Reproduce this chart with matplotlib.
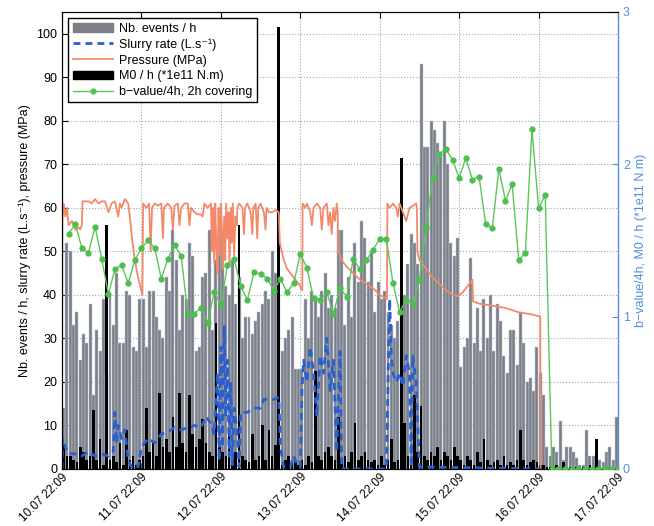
import numpy as np
import matplotlib.pyplot as plt
from matplotlib.patches import Patch
from matplotlib.lines import Line2D

plt.rcParams['font.family'] = ['Liberation Sans', 'DejaVu Sans']

# ---- date axis (hours since 10.07 22:09) ----
tick_hours = [0, 24, 48, 72, 96, 120, 144, 168]
tick_labels = ['10.07 22:09', '11.07 22:09', '12.07 22:09', '13.07 22:09',
               '14.07 22:09', '15.07 22:09', '16.07 22:09', '17.07 22:09']

# ---- number of events per hour, one list per day ----
events_d1 = [14, 52, 50, 33, 36, 25, 31, 29, 38, 17, 32, 27, 39, 22, 40, 33, 45, 29, 29, 41, 40, 28, 27, 39]
events_d2 = [39, 28, 41, 41, 35, 32, 30, 44, 41, 55, 48, 32, 40, 39, 52, 49, 27, 28, 44, 45, 55, 32, 48, 55]
events_d3 = [55, 42, 40, 48, 38, 44, 30, 35, 35, 31, 34, 36, 38, 41, 39, 50, 45, 40, 27, 30, 32, 35, 23, 23]
events_d4 = [23, 39, 30, 41, 39, 35, 41, 45, 37, 40, 37, 55, 55, 33, 44, 35, 52, 43, 57, 53, 43, 50, 36, 43]
events_d5 = [39, 41, 36, 33, 30, 34, 35, 40, 47, 54, 52, 47, 93, 74, 74, 80, 78, 75, 72, 80, 70, 52, 49, 53]
events_d6 = [23.5, 28, 30, 48.5, 29, 37, 27, 39, 30, 40, 27, 38, 34, 26, 22, 32, 32, 24, 36, 29, 20, 21, 18, 28]
events_d7 = [22, 17, 5, 3, 5, 4, 11, 2, 5, 5, 4, 2.5, 1, 1, 9, 3, 3, 2, 2, 1.5, 4, 5, 2, 12]

# ---- seismic moment per hour (*1e11 N.m, drawn in left-axis units) ----
moment_d1 = [5.5, 3, 3, 2, 1.5, 5, 4, 2, 3, 13.5, 2, 7, 1, 56, 2, 3, 1.5, 6, 1, 9, 2, 3, 1, 2]
moment_d2 = [3, 14, 4, 6, 3, 17.5, 5, 7, 4, 12, 5, 17.5, 6, 4, 17, 8, 5, 7, 11.5, 6, 4, 3, 33.5, 5]
moment_d3 = [4, 3, 9.5, 2, 4, 56, 3, 2, 1.5, 8, 2, 3, 10, 2, 9, 3, 5.5, 101.5, 1, 2, 3, 1.5, 2, 1]
moment_d4 = [2, 1, 3, 1.5, 22.5, 3, 2, 4, 5, 3, 2, 12, 2, 3, 1.5, 4, 10.5, 2, 3, 4, 2, 1.5, 2, 1]
moment_d5 = [3, 1, 2, 7, 1.5, 2, 71.5, 10.5, 3, 2, 17, 4, 14.5, 3, 2, 4, 3, 5, 2, 4, 3, 2, 5, 3]
moment_d6 = [2, 1, 3, 2, 1, 4, 1.5, 7, 2, 1, 1.5, 2, 1, 3, 1, 1.5, 1, 2, 9, 2, 1, 1.5, 2, 1.5]
moment_d7 = [1, 1, 0.5, 0.5, 0.3, 1, 0.3, 1.5, 0.3, 0.5, 0.3, 0.5, 0.3, 0.5, 0.3, 1, 0.5, 7, 0.5, 0.3, 0.5, 0.3, 0.3, 0.3]

# ---- injection pressure (MPa) ----
pressure_t = [0, 0.1, 0.5, 1, 1.5, 2, 3, 4, 5, 5.5, 6, 6.2, 8, 9, 10, 11, 12, 13, 14, 15, 16, 17, 17.5, 18, 19, 20,
              20.5, 21, 22, 23, 24, 24.3,
              24.5, 25.5, 26.3, 26.8, 27.2, 28, 29, 30, 30.5, 30.8, 32, 33, 33.5, 34, 35, 35.5, 36, 37, 38, 38.5,
              39, 40, 41, 42, 42.5, 43, 44,
              45, 45.3, 45.6, 46, 46.3, 46.6, 47, 47.3, 47.6, 48, 48.3, 48.6, 49, 49.3, 49.6, 50, 50.3, 50.6, 51,
              51.3, 51.6, 52, 52.4, 52.8, 53,
              53.5, 54.5, 55, 55.3, 56, 57, 57.5, 57.8, 58.5, 59, 59.3, 60, 61, 61.5, 61.8, 62.5, 63.5, 64.5, 65.5,
              65.8, 67, 68, 69, 70, 71, 72, 72.6,
              72.7, 73.5, 74, 75, 75.5, 76, 77, 78, 78.5, 79, 80, 80.5, 81, 81.5, 82, 82.5, 83, 83.3,
              83.4, 84.5, 86, 88, 90, 92, 94, 96, 98.2,
              98.3, 99, 100, 101, 101.5, 102, 103, 104, 105, 106, 107, 107.2,
              107.4, 108, 110, 112, 114, 116, 118, 119.5, 121, 122.5, 124,
              124.2, 126, 130, 134, 138, 142, 144.5, 144.6]
pressure_v = [0, 57, 61, 58, 60, 56, 57, 55, 55.5, 55, 56, 61.5, 61.5, 61, 62, 61, 61.5, 61.5, 59, 61, 61.5, 58, 61, 60, 62, 61,
              58, 54, 48, 44, 41, 40,
              61, 60, 61, 50, 60, 61, 60.5, 61, 53, 60, 61, 60, 55, 60.5, 61, 56, 60, 61, 61, 56,
              60, 59, 58.5, 58.5, 58, 61, 60,
              61, 50, 60, 47, 61, 52, 45, 60, 49, 61, 55, 46, 58, 48, 61, 53, 59, 47, 60,
              52, 61, 49, 58, 56, 60,
              61, 60, 54, 60, 61, 59, 54, 60, 61, 53, 60, 61, 59, 55, 60, 59, 59, 59.5, 59,
              52, 48, 46, 45, 44, 43, 42, 41,
              61, 60, 61, 59, 56, 60, 61, 60, 55, 60, 61, 56, 59, 54, 60, 57, 61, 59,
              50, 48, 46.5, 45, 43.5, 42.5, 41.5, 40, 39,
              61, 60, 61, 60, 58, 61, 59, 57, 60, 60.5, 61, 60,
              50, 48, 46, 44, 42.5, 41, 40, 39.7, 40.5, 42, 43.5,
              38.5, 38, 37.5, 37, 36, 35.5, 35, 0]

# ---- slurry injection rate (L/s) ----
slurry_t = [0, 0.2, 1, 2, 4, 6, 8, 10, 12, 14, 15.5, 16, 16.5, 17, 18, 19, 20, 21, 22, 23,
            24, 26, 28, 30, 32, 34, 36, 38, 40, 42, 43.5, 45, 46, 47, 47.5, 48, 48.5, 49, 49.5, 50, 50.5,
            51, 51.5, 52, 53, 53.5, 54, 56, 58, 60, 61, 64, 65.5, 66, 67, 69, 70, 71, 72,
            72.5, 73, 74, 75, 76, 77, 78, 79, 80, 81, 82, 83, 84, 84.5,
            98, 99, 99.5, 100, 101, 102, 103, 104, 105, 105.5, 106, 107, 108, 144.6]
slurry_v = [0, 7, 5, 3.5, 3.5, 3, 4, 3, 3.5, 3, 4, 13, 6, 10, 7, 9, 2, 0.5, 1, 0.5,
            5, 7, 6, 8, 8.5, 9.5, 9, 9.5, 10, 9.5, 12, 10.5, 8, 22, 2, 28, 5, 33, 12, 25, 3,
            20, 1, 14, 8, 0.5, 13, 13, 14, 14, 16, 16, 16.5, 5, 0.5, 0.5, 3, 1, 0.5,
            18, 25, 20, 28, 22, 12, 26, 22, 30, 18, 25, 4, 27, 0,
            0, 39, 26, 22, 20, 22, 19, 26, 22, 0.5, 26, 20, 0.5, 0]

# ---- b-value over 4 h windows, 2 h covering ----
bvalue_t = list(range(2, 169, 2))
bvalue_v = [1.54, 1.61, 1.45, 1.42, 1.59, 1.38, 1.15, 1.31, 1.34, 1.22, 1.37, 1.45, 1.50, 1.45, 1.25,
            1.38, 1.47, 1.40, 1.02, 1.02, 1.06, 0.96, 1.16, 1.08, 1.34, 1.38, 1.20, 1.11, 1.29, 1.28,
            1.25, 1.17, 1.25, 1.16, 1.22, 1.41, 1.32, 1.12, 1.11, 1.16, 1.02, 1.19, 1.13, 1.38, 1.31,
            1.37, 1.44, 1.51, 1.51, 1.22, 1.03, 1.11, 1.08, 1.24, 1.59, 1.91, 2.07, 2.10, 2.03, 1.91,
            2.04, 1.90, 1.92, 1.61, 1.58, 1.97, 1.76, 1.87, 1.37, 1.42, 2.23, 1.71, 1.80,
            0, 0, 0, 0, 0, 0, 0, 0, 0, 0, 0]

events = events_d1 + events_d2 + events_d3 + events_d4 + events_d5 + events_d6 + events_d7
moment = moment_d1 + moment_d2 + moment_d3 + moment_d4 + moment_d5 + moment_d6 + moment_d7
hour_centres = np.arange(len(events)) + 0.5

GRAY = '#7e7f85'
BAR_EDGE = '#b4c6dc'
ORANGE = '#f4896a'
BLUE_DASH = '#2a5fcf'
GREEN = '#5cc55a'
RIGHT_BLUE = '#4f8fe0'

fig = plt.figure(figsize=(6.54, 5.26), dpi=100)
ax = fig.add_axes([0.0948, 0.1084, 0.8502, 0.8688])

ax.bar(hour_centres, events, width=0.9, color=GRAY, edgecolor=BAR_EDGE, linewidth=0.35, zorder=2)
ax.bar(hour_centres, moment, width=0.8, color='black', linewidth=0, zorder=3)
ax.plot(pressure_t, pressure_v, color=ORANGE, lw=1.3, zorder=4)
ax.plot(slurry_t, slurry_v, color=BLUE_DASH, lw=2.0, ls=(0, (2.5, 1.8)), zorder=5)

ax.set_xlim(0, 168)
ax.set_ylim(0, 105)
ax.set_yticks(range(0, 101, 10))
ax.set_xticks(tick_hours)
ax.set_xticklabels(tick_labels, rotation=45, ha='right', va='top', rotation_mode='anchor', fontsize=8.5)
ax.set_axisbelow(True)
ax.grid(True, ls=':', color='#9ea8b8', lw=0.8)
ax.tick_params(direction='in', top=True, right=True, labelsize=9, length=4)
ax.tick_params(axis='x', pad=1.5, labelsize=8.5)
ax.set_ylabel('Nb. events / h, slurry rate (L.s\u207b\u00b9), pressure (MPa)', fontsize=9)

ax2 = ax.twinx()
ax2.plot(bvalue_t, bvalue_v, color=GREEN, lw=1.0, marker='o', ms=3.5,
         markerfacecolor='#4cbf4c', markeredgecolor='#4cbf4c', zorder=6)
ax2.set_ylim(0, 3)
ax2.set_yticks([0, 1, 2, 3])
ax2.tick_params(direction='in', colors=RIGHT_BLUE, labelsize=9, length=4)
ax2.spines['right'].set_color(RIGHT_BLUE)
ax2.set_ylabel('b\u2212value/4h, M0 / h (*1e11 N.m)', color=RIGHT_BLUE, fontsize=9)

handles = [Patch(facecolor=GRAY, edgecolor=GRAY),
           Line2D([], [], color=BLUE_DASH, lw=2, ls=(0, (2.5, 1.8))),
           Line2D([], [], color=ORANGE, lw=1.3),
           Patch(facecolor='black', edgecolor='black'),
           Line2D([], [], color=GREEN, lw=1, marker='o', ms=3.5, markerfacecolor='#4cbf4c')]
labels = ['Nb. events / h', 'Slurry rate (L.s\u207b\u00b9)', 'Pressure (MPa)',
          'M0 / h (*1e11 N.m)', 'b\u2212value/4h, 2h covering']
leg = ax2.legend(handles, labels, loc='upper left', fontsize=9, fancybox=False,
                 framealpha=1, edgecolor='black', handlelength=3.2, labelspacing=0.3,
                 borderaxespad=0.5, borderpad=0.35, handletextpad=0.5)
leg.get_frame().set_linewidth(1.0)

fig.savefig('out.png', dpi=100)
